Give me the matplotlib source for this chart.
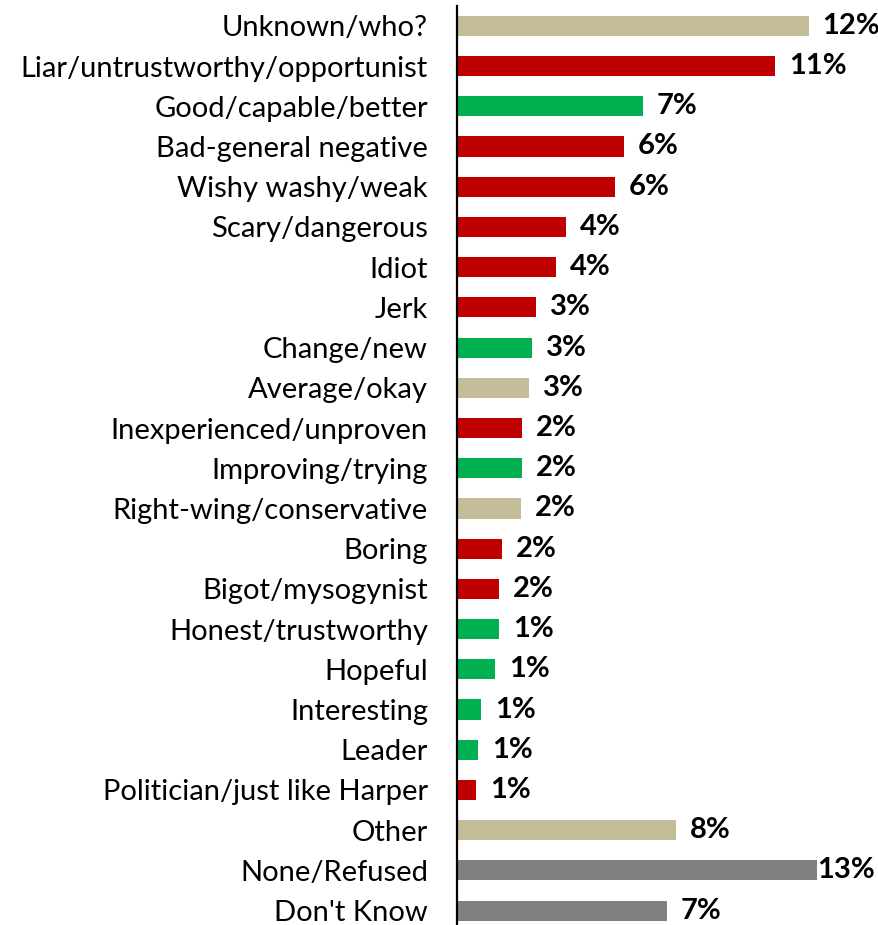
import numpy as np
import matplotlib
matplotlib.use("Agg")
from matplotlib import pyplot as plt

categories = ["Unknown/who?", "Liar/untrustworthy/opportunist", "Good/capable/better",
              "Bad-general negative", "Wishy washy/weak", "Scary/dangerous", "Idiot", "Jerk",
              "Change/new", "Average/okay", "Inexperienced/unproven", "Improving/trying",
              "Right-wing/conservative", "Boring", "Bigot/mysogynist", "Honest/trustworthy",
              "Hopeful", "Interesting", "Leader", "Politician/just like Harper", "Other",
              "None/Refused", "Don't Know"]
values = [12.0, 10.85, 6.35, 5.68, 5.4, 3.73, 3.38, 2.7, 2.56, 2.46, 2.22, 2.22, 2.19,
          1.54, 1.44, 1.44, 1.3, 0.82, 0.72, 0.65, 7.48, 13.0, 7.15]
labels = ["12%", "11%", "7%", "6%", "6%", "4%", "4%", "3%", "3%", "3%", "2%", "2%", "2%",
          "2%", "2%", "1%", "1%", "1%", "1%", "1%", "8%", "13%", "7%"]
tone = ["n", "r", "g", "r", "r", "r", "r", "r", "g", "n", "r", "g", "n",
        "r", "r", "g", "g", "g", "g", "r", "n", "k", "k"]

palette = {"n": "#C4BD97", "r": "#C00000", "g": "#00B050", "k": "#808080"}

plt.rcParams['font.family'] = ['Lato', 'DejaVu Sans']

fig = plt.figure(figsize=(8.79, 9.25), dpi=100)
ax = fig.add_axes([0.52, -0.0062, 0.48, 1.0])

y = np.arange(len(categories))
ax.barh(y, values, height=0.5, color=[palette[t] for t in tone])
ax.set_ylim(len(categories) - 0.5, -0.5)
ax.set_xlim(0, 14.4)
ax.set_yticks(y)
ax.set_yticklabels(categories, fontsize=21)
ax.tick_params(axis='y', length=0, pad=21)
ax.set_xticks([])
for s in ["top", "right", "bottom"]:
    ax.spines[s].set_visible(False)
ax.spines["left"].set_linewidth(1.6)

for i, (v, lab) in enumerate(zip(values, labels)):
    if lab == "13%":
        ax.text(12.3, i, lab, va="center", ha="left", fontsize=21, fontweight="bold",
                bbox=dict(facecolor="white", edgecolor="none", pad=0))
    else:
        ax.annotate(lab, (v, i), xytext=(10, 0), textcoords="offset points",
                    va="center", ha="left", fontsize=21, fontweight="bold")

fig.savefig("out.png", dpi=100)
